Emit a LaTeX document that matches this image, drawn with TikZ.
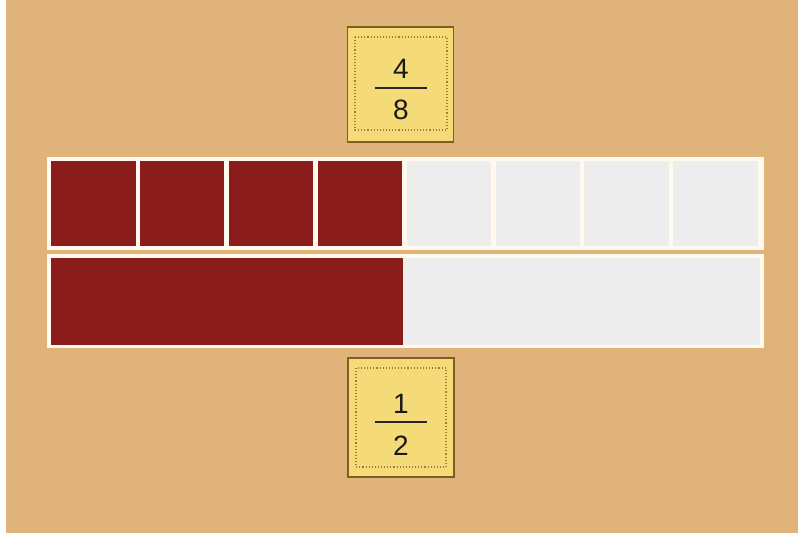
\documentclass[tikz,border=0pt]{standalone}
\usepackage{fontspec}
\setmainfont{Liberation Sans}
\definecolor{bgtan}{HTML}{E0B37B}
\definecolor{barred}{HTML}{8A1C1C}
\definecolor{barlight}{HTML}{EDEDED}
\definecolor{framewhite}{HTML}{FFF9EE}
\definecolor{cardfill}{HTML}{F5DA78}
\definecolor{cardedge}{HTML}{7E5E22}
\definecolor{carddot}{HTML}{9C7E3A}
\begin{document}
\begin{tikzpicture}[x=1pt,y=-1pt,
  frame/.style={fill=framewhite,draw=none},
  redcell/.style={fill=barred,draw=none},
  lightcell/.style={fill=barlight,draw=none},
  card/.style={fill=cardfill,draw=cardedge,line width=1.5pt},
  cardin/.style={draw=carddot,dotted,line width=1.1pt},
  digit/.style={font=\fontsize{28}{28}\selectfont,text=black!90,inner sep=0pt},
  fracline/.style={line width=2.4pt,draw=black!85}]
\useasboundingbox (0,0) rectangle (802,536);
\fill[white] (0,0) rectangle (802,536);
\fill[bgtan] (6,0) rectangle (798,533);
% frames
\path[frame] (47,157) rectangle (764,250);
\path[frame] (47,254) rectangle (764,348);
% top row cells
\foreach \i/\st in {0/redcell,1/redcell,2/redcell,3/redcell,4/lightcell,5/lightcell,6/lightcell,7/lightcell}{
  \path[\st] ({51+\i*88.9},161) rectangle ({51+\i*88.9+84.5},246);
}
% bottom row
\path[redcell] (51,258) rectangle (403,345);
\path[lightcell] (403,258) rectangle (760,345);
% top card
\node[card,minimum width=106pt,minimum height=115pt,inner sep=0pt] (c1) at (400.5,84.5) {};
\draw[cardin] (355,37) rectangle (447,130);
\node[digit] (n1) at (401,69) {4};
\node[digit] (d1) at (401,110) {8};
\draw[fracline] (375,88) -- (427,88);
% bottom card
\node[card,minimum width=106pt,minimum height=119pt,inner sep=0pt] (c2) at (401,417.5) {};
\draw[cardin] (356,368) rectangle (446,467);
\node[digit] (n2) at (401,404) {1};
\node[digit] (d2) at (401,446) {2};
\draw[fracline] (375,422) -- (427,422);
\end{tikzpicture}
\end{document}
